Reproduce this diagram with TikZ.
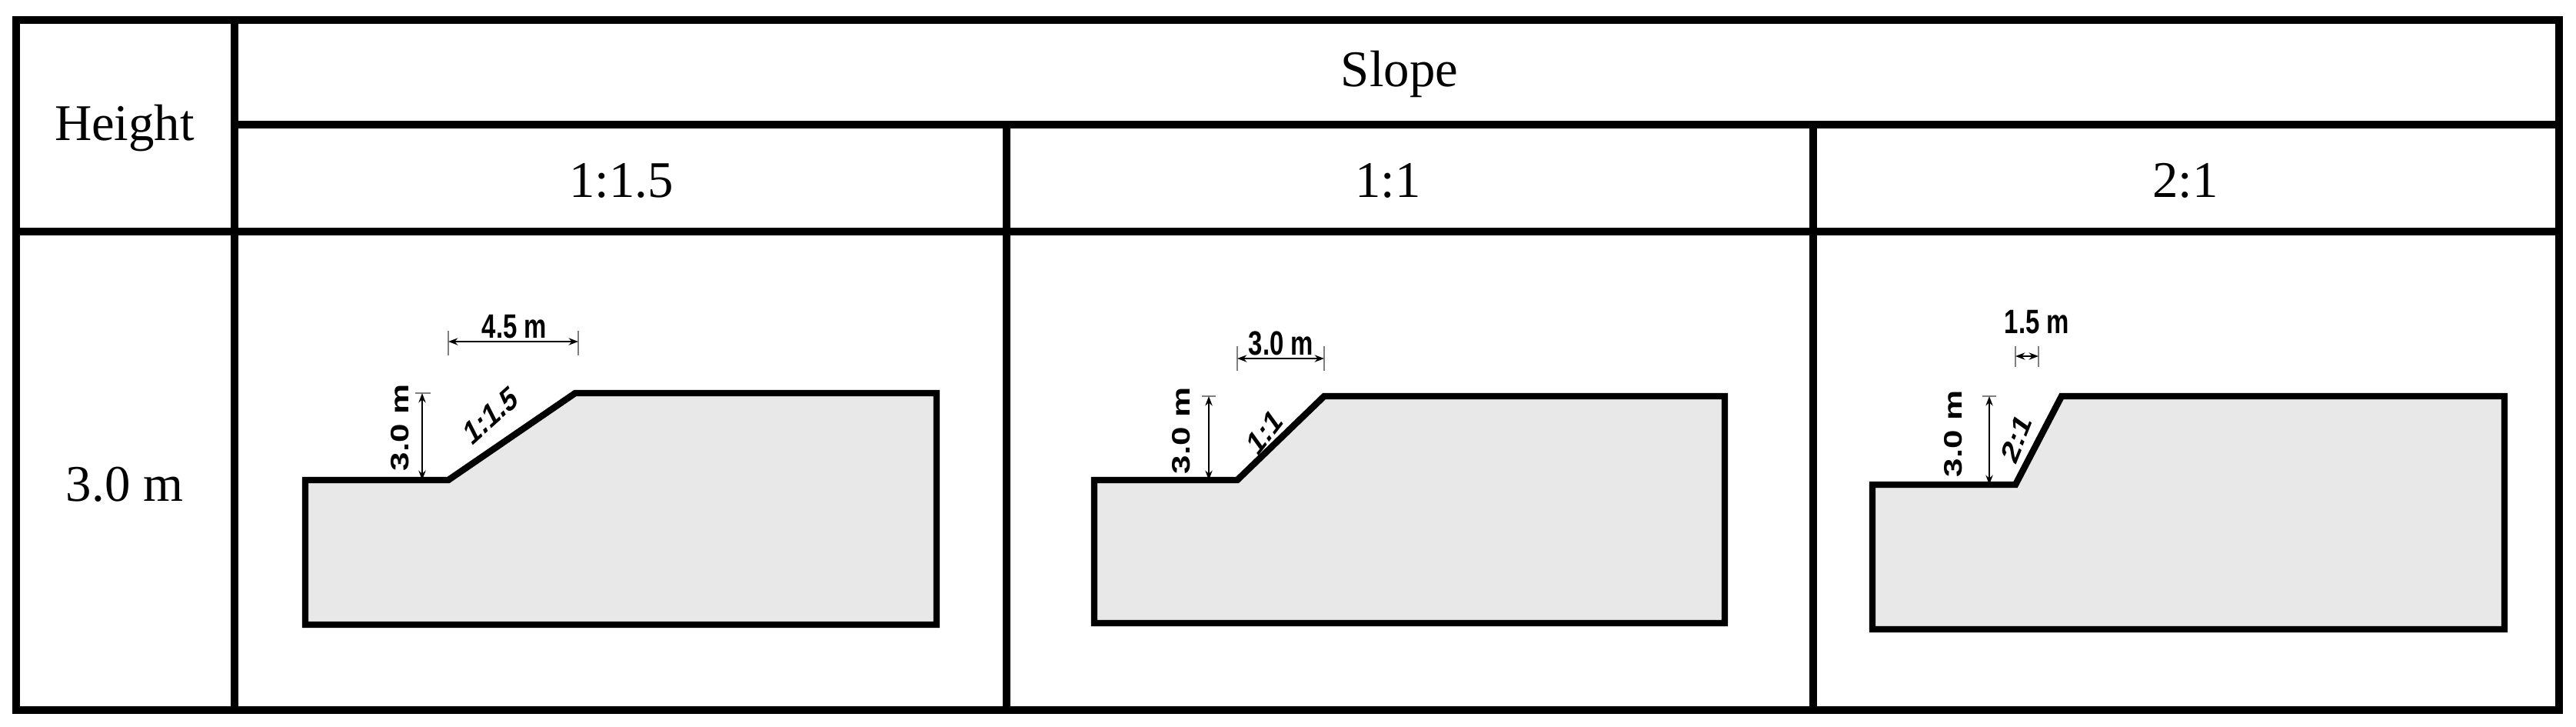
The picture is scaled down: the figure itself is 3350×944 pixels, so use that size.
\documentclass[tikz,border=0pt]{standalone}
\usepackage{fontspec}
\usetikzlibrary{arrows.meta}
\setmainfont{Liberation Serif}
\newfontfamily\lblfont{Liberation Sans}
\begin{document}
\begin{tikzpicture}[x=0.01cm,y=-0.01cm,
  grid/.style={line width=3pt},
  cell/.style={font=\fontsize{19}{22}\selectfont},
  ground/.style={fill=black!9,draw=black,line width=2.4pt,line join=miter},
  dim/.style={line width=0.6pt,{Stealth[length=3.5pt]}-{Stealth[length=3.5pt]}},
  ext/.style={line width=0.6pt,gray},
  lbl/.style={font=\lblfont\bfseries\fontsize{12.5}{13}\selectfont,xscale=0.75,inner sep=0pt}]
\useasboundingbox (0,0) rectangle (3350,944);
% table
\draw[grid] (21,26) rectangle (3328,923);
\draw[grid] (305,26) -- (305,923);
\draw[grid] (305,162) -- (3328,162);
\draw[grid] (21,301) -- (3328,301);
\draw[grid] (1309,162) -- (1309,923);
\draw[grid] (2358,162) -- (2358,923);
\node[cell] (hh) at (162,167) {Height};
\node[cell] (hs) at (1820,96) {Slope};
\node[cell] (c1) at (808,235) {1:1.5};
\node[cell] (c2) at (1805,235) {1:1};
\node[cell] (c3) at (2842,235) {2:1};
\node[cell] (r1) at (162,630) {3.0 m};
% diagram 1
\draw[ground] (397,624) -- (583,624) -- (748,511) -- (1218,511) -- (1218,812) -- (397,812) -- cycle;
\draw[ext] (540,511) -- (560,511);
\draw[dim] (549,511) -- (549,624);
\node[lbl,rotate=90] (d1h) at (520,556) {3.0 m};
\draw[ext] (583,430) -- (583,462); \draw[ext] (752,430) -- (752,462);
\draw[dim] (583,444) -- (752,444);
\node[lbl,above=1pt] (d1w) at (669,444) {4.5 m};
\node[lbl,rotate=34] (d1s) at (638,540) {1:1.5};
% diagram 2
\draw[ground] (1423,624) -- (1609,624) -- (1722,515) -- (2243,515) -- (2243,810) -- (1423,810) -- cycle;
\draw[ext] (1563,515) -- (1581,515);
\draw[dim] (1572,515) -- (1572,624);
\node[lbl,rotate=90] (d2h) at (1536,560) {3.0 m};
\draw[ext] (1609,450) -- (1609,482); \draw[ext] (1722,450) -- (1722,482);
\draw[dim] (1609,466) -- (1722,466);
\node[lbl,above=1pt] (d2w) at (1666,466) {3.0 m};
\node[lbl,rotate=44] (d2s) at (1645,562) {1:1};
% diagram 3
\draw[ground] (2435,630) -- (2621,630) -- (2681,515) -- (3257,515) -- (3257,818) -- (2435,818) -- cycle;
\draw[ext] (2578,515) -- (2596,515);
\draw[dim] (2587,515) -- (2587,630);
\node[lbl,rotate=90] (d3h) at (2540,564) {3.0 m};
\draw[ext] (2621,450) -- (2621,477); \draw[ext] (2651,450) -- (2651,477);
\draw[dim] (2621,463) -- (2651,463);
\node[lbl] (d3w) at (2649,419) {1.5 m};
\node[lbl,rotate=62] (d3s) at (2622,570) {2:1};
\end{tikzpicture}
\end{document}
